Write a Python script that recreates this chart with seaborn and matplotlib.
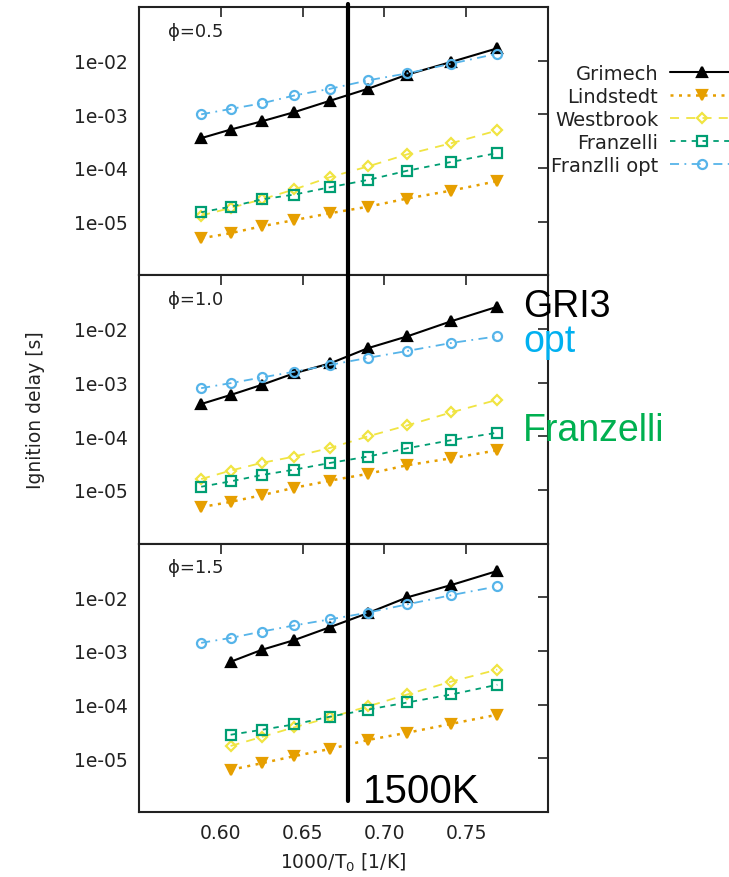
import numpy as np
import pandas as pd
import matplotlib
matplotlib.use("Agg")
import matplotlib.pyplot as plt
from matplotlib.lines import Line2D
import seaborn as sns

# Inverse initial temperature, 1000/T0 [1/K]  (T0 = 1700 ... 1300 K)
inv_T = [0.588, 0.606, 0.625, 0.645, 0.667, 0.690, 0.714, 0.741, 0.769]

phis = [0.5, 1.0, 1.5]
phi_labels = ["ϕ=0.5", "ϕ=1.0", "ϕ=1.5"]
models = ["Grimech", "Lindstedt", "Westbrook", "Franzelli", "Franzlli opt"]

nan = np.nan
# Ignition delay [s], one row per equivalence ratio
grimech_delay = [
    [3.6e-4, 5.2e-4, 7.4e-4, 1.1e-3, 1.8e-3, 3.0e-3, 5.5e-3, 9.5e-3, 1.7e-2],
    [4.0e-4, 5.9e-4, 9.1e-4, 1.5e-3, 2.3e-3, 4.4e-3, 7.3e-3, 1.4e-2, 2.6e-2],
    [nan, 6.3e-4, 1.05e-3, 1.6e-3, 2.8e-3, 5.1e-3, 1.0e-2, 1.7e-2, 3.1e-2],
]
lindstedt_delay = [
    [4.9e-6, 6.1e-6, 8.2e-6, 1.07e-5, 1.44e-5, 1.9e-5, 2.7e-5, 3.8e-5, 5.7e-5],
    [4.8e-6, 6.0e-6, 8.0e-6, 1.1e-5, 1.5e-5, 2.0e-5, 2.9e-5, 3.9e-5, 5.5e-5],
    [nan, 6.1e-6, 8.1e-6, 1.1e-5, 1.5e-5, 2.2e-5, 3.0e-5, 4.4e-5, 6.5e-5],
]
westbrook_delay = [
    [1.3e-5, 1.8e-5, 2.6e-5, 4.0e-5, 6.8e-5, 1.07e-4, 1.8e-4, 2.9e-4, 5.0e-4],
    [1.6e-5, 2.3e-5, 3.2e-5, 4.2e-5, 6.1e-5, 1.0e-4, 1.6e-4, 2.8e-4, 4.8e-4],
    [nan, 1.7e-5, 2.5e-5, 3.8e-5, 5.8e-5, 9.3e-5, 1.55e-4, 2.7e-4, 4.5e-4],
]
franzelli_delay = [
    [1.5e-5, 1.9e-5, 2.6e-5, 3.2e-5, 4.4e-5, 6.0e-5, 8.9e-5, 1.3e-4, 1.9e-4],
    [1.15e-5, 1.45e-5, 1.9e-5, 2.4e-5, 3.2e-5, 4.2e-5, 6.0e-5, 8.5e-5, 1.17e-4],
    [nan, 2.75e-5, 3.4e-5, 4.3e-5, 6.0e-5, 8.1e-5, 1.1e-4, 1.55e-4, 2.35e-4],
]
franzelli_opt_delay = [
    [1.0e-3, 1.26e-3, 1.6e-3, 2.25e-3, 3.0e-3, 4.3e-3, 5.8e-3, 8.8e-3, 1.35e-2],
    [7.9e-4, 9.8e-4, 1.25e-3, 1.6e-3, 2.15e-3, 2.9e-3, 3.9e-3, 5.5e-3, 7.3e-3],
    [1.42e-3, 1.75e-3, 2.3e-3, 3.0e-3, 3.9e-3, 5.2e-3, 7.4e-3, 1.1e-2, 1.6e-2],
]

x_ticks = [0.60, 0.65, 0.70, 0.75]
y_ticks = [1e-5, 1e-4, 1e-3, 1e-2]
y_tick_labels = ["1e-05", "1e-04", "1e-03", "1e-02"]

# long-form table
series = dict(zip(models, [grimech_delay, lindstedt_delay, westbrook_delay,
                           franzelli_delay, franzelli_opt_delay]))
rows = []
for m, per_phi in series.items():
    for phi, vals in zip(phis, per_phi):
        for x, v in zip(inv_T, vals):
            rows.append({"model": m, "phi": phi, "inv_T": x, "delay": v})
df = pd.DataFrame(rows)

styles = {
    "Grimech":      dict(color="#000000", marker="^", ls="-", filled=True, ms=7, lw=1.5),
    "Lindstedt":    dict(color="#E69F00", marker="v", ls=(0, (1.2, 2.2)), filled=True, ms=7, lw=1.8),
    "Westbrook":    dict(color="#F0E442", marker="D", ls=(0, (5, 4)), filled=False, ms=5.5, lw=1.3),
    "Franzelli":    dict(color="#009E73", marker="s", ls=(0, (3, 3)), filled=False, ms=6.5, lw=1.3),
    "Franzlli opt": dict(color="#56B4E9", marker="o", ls=(0, (5, 3, 1, 3)), filled=False, ms=6.5, lw=1.3),
}

sns.set_style("white")
plt.rcParams["font.family"] = ["DejaVu Sans"]

W, H = 729, 878
fig, axes = plt.subplots(3, 1, figsize=(W / 100, H / 100), dpi=100, sharex=True)
fig.subplots_adjust(left=139 / W, right=548 / W, top=1 - 8 / H, bottom=1 - 813 / H, hspace=0)

for i, (ax, phi, lab) in enumerate(zip(axes, phis, phi_labels)):
    ax.set_yscale("log")
    for m in models:
        st = styles[m]
        sub = df[(df["phi"] == phi) & (df["model"] == m)].dropna()
        sns.lineplot(
            data=sub, x="inv_T", y="delay", ax=ax, estimator=None, errorbar=None,
            color=st["color"], linestyle=st["ls"], linewidth=st["lw"],
            marker=st["marker"], markersize=st["ms"],
            markerfacecolor=st["color"] if st["filled"] else "none",
            markeredgecolor=st["color"], markeredgewidth=1.6,
            label=m, legend=False,
        )
    ax.set_xlim(0.55, 0.80)
    ax.set_ylim(1e-6, 1e-1)
    ax.set_xticks(x_ticks)
    ax.set_yticks(y_ticks)
    ax.set_yticklabels(y_tick_labels)
    ax.yaxis.set_minor_locator(matplotlib.ticker.NullLocator())
    ax.tick_params(axis="both", which="major", direction="in", length=7, width=1.2,
                   top=True, right=True, labelsize=13.5, labelcolor="#222222",
                   color="#222222", pad=8)
    for sp in ax.spines.values():
        sp.set_linewidth(1.5)
        sp.set_color("#222222")
    ax.set_xlabel("")
    ax.set_ylabel("")
    ax.text(0.07, 0.945, lab, transform=ax.transAxes, ha="left", va="top",
            fontsize=13, color="#222222")

axes[-1].set_xticklabels(["0.60", "0.65", "0.70", "0.75"])
axes[-1].set_xlabel("1000/T$_0$ [1/K]", fontsize=13.5, color="#222222")
axes[-1].xaxis.set_label_coords(0.5, -0.145)
axes[1].set_ylabel("Ignition delay [s]", fontsize=13.5, color="#222222")
axes[1].yaxis.set_label_coords(-0.23, 0.5)

# key, text right-aligned next to the line samples
handles = axes[0].get_lines()[:len(models)]
fig.legend(handles, models, loc="upper right", bbox_to_anchor=(734 / W, 1 - 65 / H),
           bbox_transform=fig.transFigure, markerfirst=False, frameon=False,
           fontsize=14, handlelength=3.3, handletextpad=0.6, labelspacing=0.2,
           borderpad=0, borderaxespad=0, labelcolor="#222222")

# 1500 K marker line and annotations
fig.add_artist(Line2D([348 / W, 348 / W], [1 - 5 / H, 1 - 802 / H],
                      transform=fig.transFigure, color="black", linewidth=3))
big = dict(family="Liberation Sans", fontsize=27, va="baseline", ha="left")
fig.text(523 / W, 1 - 317 / H, "GRI3", color="black", **big)
fig.text(523 / W, 1 - 352 / H, "opt", color="#00B0F0", **big)
fig.text(523 / W, 1 - 441 / H, "Franzelli", color="#00B050", **big)
fig.text(363 / W, 1 - 803 / H, "1500K", color="black",
         **{**big, "fontsize": 29})

fig.savefig("out.png", dpi=100)
